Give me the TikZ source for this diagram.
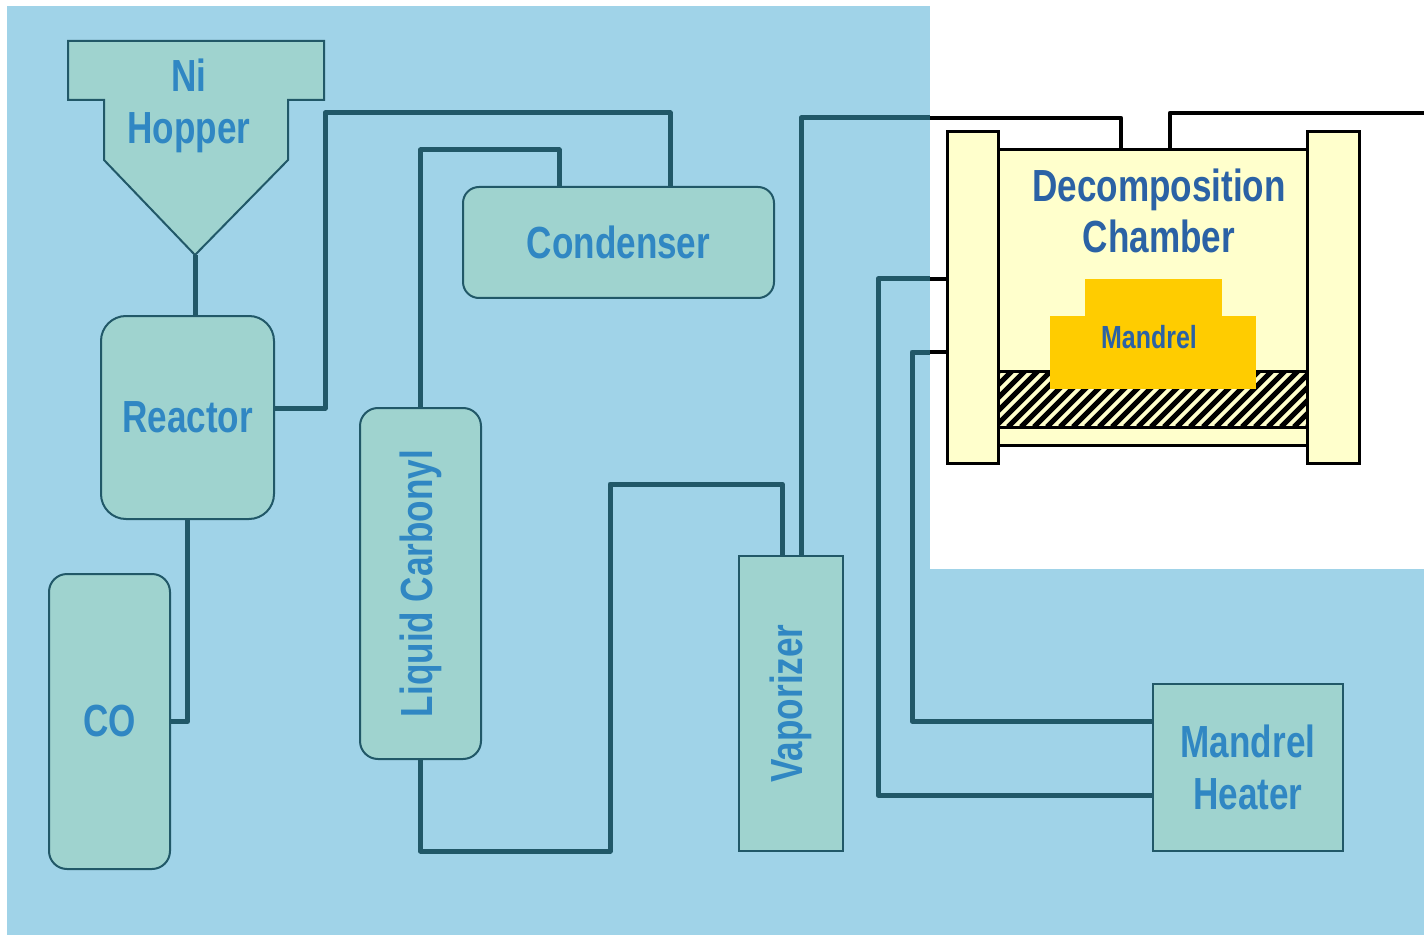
\documentclass[tikz,border=0pt]{standalone}
\usepackage{xcolor}
\usepackage{graphicx}
\usepackage{fontspec}
\setmainfont{Liberation Sans}[FakeStretch=0.78]
\usepackage{tikz}
\definecolor{backblue}{HTML}{A0D3E8}
\definecolor{unitfill}{HTML}{9FD3CF}
\definecolor{pipeblue}{HTML}{215868}
\definecolor{labelblue}{HTML}{3087C3}
\definecolor{chamberblue}{HTML}{2B62A5}
\definecolor{chamberfill}{HTML}{FFFFCC}
\definecolor{mandrelgold}{HTML}{FFCC00}
\tikzstyle{unit} = [rectangle, rounded corners=9pt, draw=pipeblue, line width=1pt, fill=unitfill, inner sep=0pt, text=labelblue, font=\fontsize{22.5}{25.75}\selectfont\bfseries, align=center]
\tikzstyle{sharpunit} = [unit, sharp corners]
\tikzstyle{wall} = [rectangle, draw=black, line width=1.5pt, fill=chamberfill, inner sep=0pt]
\tikzstyle{gold} = [rectangle, fill=mandrelgold, inner sep=0pt]
\tikzstyle{pipe} = [line width=2.5pt, draw=pipeblue, line join=round]
\tikzstyle{wire} = [line width=2.4pt, draw=black, line join=round]

\begin{document}
\begin{tikzpicture}[x=0.5pt, y=-0.5pt]

	\useasboundingbox (0,0) rectangle (1424,936);
	\fill[backblue] (7,6) rectangle (1424,935);
	\fill[white] (930,0) rectangle (1424,569);

	% hopper
	\coordinate (hoppertip) at (195,255);
	\draw[pipeblue, line width=1pt, fill=unitfill] (68,41) -- (324,41) -- (324,100) -- (288,100) -- (288,160) -- (hoppertip) -- (104,160) -- (104,100) -- (68,100) -- cycle;
	\node (hopper) [text=labelblue, font=\fontsize{22.5}{25.75}\selectfont\bfseries, align=center] at (189,106) {Ni\\Hopper};

	\node (reactor) [unit, rounded corners=12.5pt, minimum width=86.5pt, minimum height=101.5pt] at (187.5,417.5) {Reactor};
	\node (condenser) [unit, rounded corners=8pt, minimum width=155.5pt, minimum height=55.5pt] at (618.5,242.5) {Condenser};
	\node (carbonyl) [unit, minimum width=60.5pt, minimum height=175.5pt] at (420.5,583.5) {\rotatebox{90}{Liquid Carbonyl}};
	\node (co) [unit, minimum width=60.5pt, minimum height=147.5pt] at (109.5,721.5) {CO};
	\node (vaporizer) [sharpunit, minimum width=52pt, minimum height=147.5pt] at (791,703.5) {\rotatebox{90}{Vaporizer}};
	\node (heater) [sharpunit, minimum width=95pt, minimum height=83.5pt] at (1248,767.5) {Mandrel\\Heater};

	% decomposition chamber
	\node (body) [wall, minimum width=154.5pt, minimum height=147.5pt] at (1152.5,297.5) {};
	\node (flangeL) [wall, minimum width=25.5pt, minimum height=165.5pt] at (972.5,297.5) {};
	\node (flangeR) [wall, minimum width=26pt, minimum height=165.5pt] at (1333,297.5) {};
	\node (title) [text=chamberblue, font=\fontsize{22.5}{25.75}\selectfont\bfseries, align=center] at (1159,211) {Decomposition\\Chamber};
	\begin{scope}
		\clip (998,371) rectangle (1307,427);
		\fill[chamberfill] (998,371) rectangle (1307,427);
		\foreach \x in {930,943,...,1320}
			\draw[black, line width=2.6pt] (\x,427) -- ++(56,-56);
	\end{scope}
	\draw[black, line width=1.5pt] (998,371) rectangle (1307,427);
	\node (mandreltop) [gold, minimum width=68.5pt, minimum height=18.5pt] at (1153.5,297.5) {};
	\node (mandrel) [gold, minimum width=103pt, minimum height=36.5pt] at (1153,352.5) {};
	\node (mandrellabel) [text=chamberblue, font=\fontsize{16}{18}\selectfont\bfseries] at (1149,337) {Mandrel};

	\coordinate (feedin) at (930,118);
	\coordinate (heatA) at (930,279);
	\coordinate (heatB) at (930,352);

	\draw[pipe] (hoppertip) -- (hoppertip |- reactor.north);
	\draw[pipe] (reactor.east |- 0,408) -| (325,113) -| (condenser.north -| 670,0);
	\draw[pipe] (carbonyl.north) |- (559,150) -- (condenser.north -| 559,0);
	\draw[pipe] (reactor.south) |- (co.east);
	\draw[pipe] (carbonyl.south) |- (610,851) -- (610,484) -| (vaporizer.north -| 782,0);
	\draw[pipe] (vaporizer.north -| 801,0) |- (feedin);
	\draw[wire] (feedin) -| (body.north -| 1121,0);
	\draw[wire] (body.north -| 1170,0) |- (1424,113);
	\draw[pipe] (heater.west |- 0,795) -| (878,279) -- (heatA);
	\draw[wire] (heatA) -- (flangeL.west |- heatA);
	\draw[pipe] (heater.west |- 0,721) -| (912,352) -- (heatB);
	\draw[wire] (heatB) -- (flangeL.west |- heatB);

\end{tikzpicture}
\end{document}
